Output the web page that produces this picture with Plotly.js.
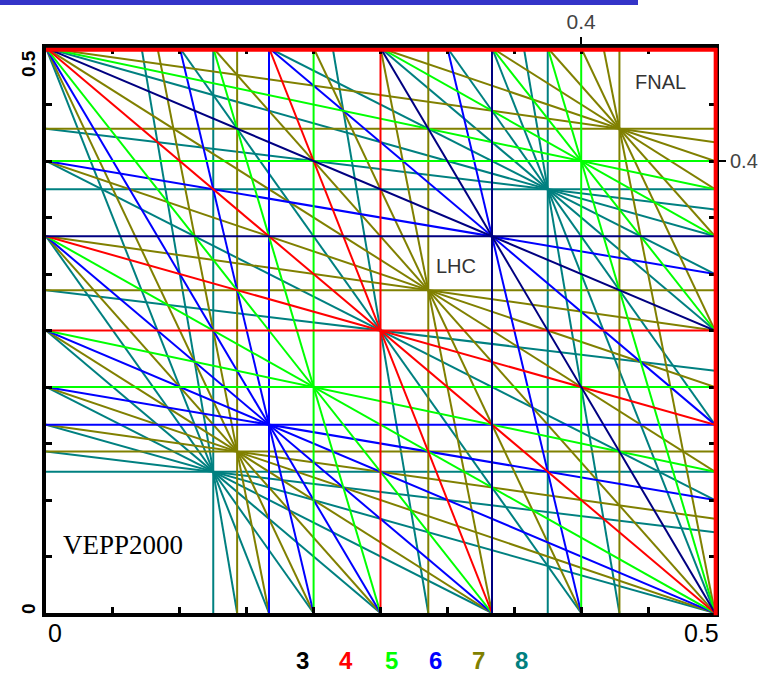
<!DOCTYPE html>
<html>
<head>
<meta charset="utf-8">
<script src="https://cdn.plot.ly/plotly-3.0.1.min.js"></script>
<style>html,body{margin:0;padding:0;background:#fff;}#chart{width:768px;height:673px;}</style>
</head>
<body>
<div id="chart"></div>
<script>
// Resonance lines  m*Qx + n*Qy = p, listed per order as [m, n, p]
const order3 = [[1,2,1],[2,1,1],[3,0,1],[0,3,1]];
const order4 = [[1,3,1],[2,2,1],[3,1,1],[4,0,1],[0,4,1],[4,0,2],[0,4,2]];
const order5 = [[1,4,1],[1,4,2],[2,3,1],[2,3,2],[3,2,1],[3,2,2],[4,1,1],[4,1,2],
                [5,0,1],[5,0,2],[0,5,1],[0,5,2]];
const order6 = [[1,5,1],[1,5,2],[2,4,1],[3,3,1],[3,3,2],[4,2,1],[5,1,1],[5,1,2],
                [6,0,1],[0,6,1]];
const order7 = [[1,6,1],[1,6,2],[1,6,3],[2,5,1],[2,5,2],[2,5,3],[3,4,1],[3,4,2],[3,4,3],
                [4,3,1],[4,3,2],[4,3,3],[5,2,1],[5,2,2],[5,2,3],[6,1,1],[6,1,2],[6,1,3],
                [7,0,1],[7,0,2],[7,0,3],[0,7,1],[0,7,2],[0,7,3]];
const order8 = [[1,7,1],[1,7,2],[1,7,3],[2,6,1],[2,6,3],[3,5,1],[3,5,2],[3,5,3],
                [4,4,1],[4,4,3],[5,3,1],[5,3,2],[5,3,3],[6,2,1],[6,2,3],[7,1,1],[7,1,2],[7,1,3],
                [8,0,1],[8,0,3],[0,8,1],[0,8,3]];
const orderLabels = ['3','4','5','6','7','8'];
const orderColors = ['#000080','#ff0000','#00ff00','#0000ff','#808000','#008080'];
const legendColors = ['#000000','#ff0000','#00ff00','#0000ff','#808000','#008080'];
const tuneMin = 0, tuneMax = 0.5;
const machineNames = ['FNAL','LHC','VEPP2000'];

function segment(m, n, p) {
  const lo = tuneMin, hi = tuneMax, eps = 1e-9;
  if (n === 0) return [[p/m, lo],[p/m, hi]];
  if (m === 0) return [[lo, p/n],[hi, p/n]];
  const cand = [
    [lo, (p - m*lo)/n], [hi, (p - m*hi)/n],
    [(p - n*lo)/m, lo], [(p - n*hi)/m, hi]
  ].filter(q => q[0] >= lo-eps && q[0] <= hi+eps && q[1] >= lo-eps && q[1] <= hi+eps);
  const uniq = [];
  cand.forEach(q => { if (!uniq.some(u => Math.abs(u[0]-q[0])<1e-7 && Math.abs(u[1]-q[1])<1e-7)) uniq.push(q); });
  return uniq.slice(0,2);
}

const groups = [order3, order4, order5, order6, order7, order8];
const traces = [];
for (let g = groups.length - 1; g >= 0; g--) {
  const xs = [], ys = [];
  groups[g].forEach(([m,n,p]) => {
    const s = segment(m,n,p);
    if (s.length === 2) { xs.push(s[0][0], s[1][0], null); ys.push(s[0][1], s[1][1], null); }
  });
  traces.push({x: xs, y: ys, mode: 'lines', type: 'scatter', name: orderLabels[g],
    line: {color: orderColors[g], width: 2}, hoverinfo: 'skip', showlegend: false});
}
traces.push({x: [null], y: [null], xaxis: 'x2', yaxis: 'y2', mode: 'lines', showlegend: false, hoverinfo: 'skip'});

const minorTicks = [0.05,0.1,0.15,0.2,0.25,0.3,0.35,0.4,0.45];
const PX = x => (x-46)/669, PY = y => (613-y)/565;
function ann(text, x, y, font, extra) {
  return Object.assign({text: text, xref: 'paper', yref: 'paper', x: PX(x), y: PY(y),
    xanchor: 'center', yanchor: 'middle', showarrow: false, font: font}, extra || {});
}
const annotations = [
  ann(machineNames[0], 660, 82, {family: 'Arial, Liberation Sans', size: 20, color: '#333333'}),
  ann(machineNames[1], 456, 266, {family: 'Arial, Liberation Sans', size: 20, color: '#333333'}),
  ann(machineNames[2], 123, 545, {family: 'Liberation Serif, Times New Roman, serif', size: 27, color: '#000'})
];
// axis end labels
[['0',55,633],['0.5',701,633]].forEach(([t,x,y]) =>
  annotations.push(ann(t, x, y, {family:'Arial, Liberation Sans', size:25, color:'#000'})));
[['0.5',28,64],['0',28,609]].forEach(([t,x,y]) =>
  annotations.push(ann('<b>'+t+'</b>', x, y, {family:'Arial, Liberation Sans', size:19, color:'#000'}, {textangle:-90})));
// order legend
const legendX = [302, 346, 391, 435, 478, 521];
orderLabels.forEach((t,i) =>
  annotations.push(ann('<b>'+t+'</b>', legendX[i], 660, {family:'Arial, Liberation Sans', size:24, color: legendColors[i]})));

const layout = {
  width: 768, height: 673,
  margin: {l: 46, r: 53, t: 48, b: 60, pad: 0},
  paper_bgcolor: '#fff', plot_bgcolor: '#fff',
  showlegend: false,
  xaxis: {range: [tuneMin, tuneMax], showgrid: false, zeroline: false, showline: true, linecolor: '#000',
    linewidth: 4, mirror: 'ticks', ticks: 'inside', ticklen: 6, tickwidth: 3, tickcolor: '#000',
    tickvals: minorTicks, showticklabels: false},
  yaxis: {range: [tuneMin, tuneMax], showgrid: false, zeroline: false, showline: true, linecolor: '#000',
    linewidth: 4, mirror: 'ticks', ticks: 'inside', ticklen: 6, tickwidth: 3, tickcolor: '#000',
    tickvals: minorTicks, showticklabels: false},
  xaxis2: {range: [tuneMin, tuneMax], overlaying: 'x', side: 'top', anchor: 'y2', showgrid: false, zeroline: false,
    showline: false, ticks: 'outside', ticklen: 10, tickwidth: 2, tickcolor: '#000', tickvals: [0.4], ticktext: ['0.4'],
    tickfont: {family: 'Arial, Liberation Sans', size: 21, color: '#444'}},
  yaxis2: {range: [tuneMin, tuneMax], overlaying: 'y', side: 'right', anchor: 'x2', showgrid: false, zeroline: false,
    showline: false, ticks: 'outside', ticklen: 10, tickwidth: 2, tickcolor: '#000', tickvals: [0.4], ticktext: ['0.4'],
    tickfont: {family: 'Arial, Liberation Sans', size: 20, color: '#444'}},
  shapes: [
    {type: 'line', xref: 'paper', yref: 'paper', x0: 0, x1: 1.003, y0: 0.997, y1: 0.997, line: {color: '#ff0000', width: 4}, layer: 'above'},
    {type: 'line', xref: 'paper', yref: 'paper', x0: 1.001, x1: 1.001, y0: -0.004, y1: 1.0, line: {color: '#ff0000', width: 4}, layer: 'above'},
    {type: 'rect', xref: 'paper', yref: 'paper', x0: -46/669, x1: (638-46)/669, y0: (613-5)/565, y1: 613/565,
      line: {width: 0}, fillcolor: '#3434c8'}
  ],
  annotations: annotations
};
Plotly.newPlot('chart', traces, layout, {displayModeBar: false, staticPlot: true});
</script>
</body>
</html>
